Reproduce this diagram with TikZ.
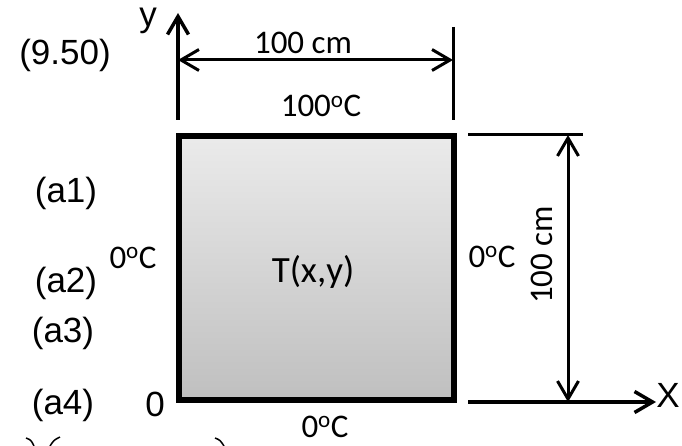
\documentclass[tikz,border=0pt]{standalone}
\usepackage{fontspec}
\setmainfont{Carlito}
\newfontfamily\arialf{Liberation Sans}
\usetikzlibrary{arrows.meta,shadows}
\tikzset{
  barb/.style={-{Straight Barb[length=18pt,width=21pt]}},
  barbboth/.style={{Straight Barb[length=18pt,width=21pt]}-{Straight Barb[length=18pt,width=21pt]}},
  axisline/.style={line width=3.5pt,barb},
  dimline/.style={line width=3pt},
  cal/.style={font=\fontsize{33}{33}\selectfont, inner sep=0pt, anchor=base},
  ari/.style={font=\arialf\fontsize{35}{35}\selectfont, inner sep=0pt, anchor=base},
  frag/.style={line width=1.5pt}
}
\newcommand{\degc}{0\textsuperscript{o}C}
\begin{document}
\begin{tikzpicture}[x=1pt,y=-1pt]
\useasboundingbox (0,0) rectangle (682,446);
% plate
\node[draw=black, line width=6pt, top color=black!8, bottom color=black!25,
      minimum width=275pt, minimum height=264pt, inner sep=0pt,
      drop shadow={opacity=0.35, shadow xshift=2pt, shadow yshift=-2pt}]
      (plate) at (316,268) {};
% coordinates
\coordinate (ybot) at (178,120);
\coordinate (ytop) at (178,13);
\coordinate (dimL) at (178,60);
\coordinate (dimR) at (453,60);
\coordinate (tickT) at (453,27);
\coordinate (tickB) at (453,120);
\coordinate (hT1) at (468,135);
\coordinate (hT2) at (583,135);
\coordinate (vT) at (568,135);
\coordinate (vB) at (568,402);
\coordinate (xL) at (468,402);
\coordinate (xR) at (656,402);
% axes
\draw[axisline] (ybot) -- (ytop);
\draw[axisline] (xL) -- (xR);
% dimensions
\draw[dimline, barbboth] (dimL) -- (dimR);
\draw[dimline] (tickT) -- (tickB);
\draw[dimline] (hT1) -- (hT2);
\draw[dimline, barbboth] (vT) -- (vB);
% texts
\node[cal] (wtxt) at (303,54) {100 cm};
\node[cal] (ttop) at (321,117) {10\degc};
\node[cal, font=\fontsize{37}{37}\selectfont] (tcen) at (313,282) {T(x,y)};
\node[cal] (tleft) at (133,268) {\degc};
\node[cal] (tright) at (492,267) {\degc};
\node[cal] (tbot) at (325,437) {\degc};
\node[cal, rotate=90] (htxt) at (552,255) {100 cm};
\node[ari] (ylab) at (148,27) {y};
\node[ari] (xlab) at (668,407) {X};
\node[ari] (orig) at (155,416) {0};
\node[ari] (eq) at (65,65) {(9.50)};
\node[ari] (a1) at (66,203) {(a1)};
\node[ari] (a2) at (66,292) {(a2)};
\node[ari] (a3) at (63,342) {(a3)};
\node[ari] (a4) at (63,414) {(a4)};
% clipped fragments at bottom edge
\draw[frag] (26,438) .. controls (31,440) .. (34,446);
\draw[frag] (60,437) .. controls (54,440) .. (50,446);
\draw[frag] (215,438) .. controls (220,440) .. (224,446);
\end{tikzpicture}
\end{document}
